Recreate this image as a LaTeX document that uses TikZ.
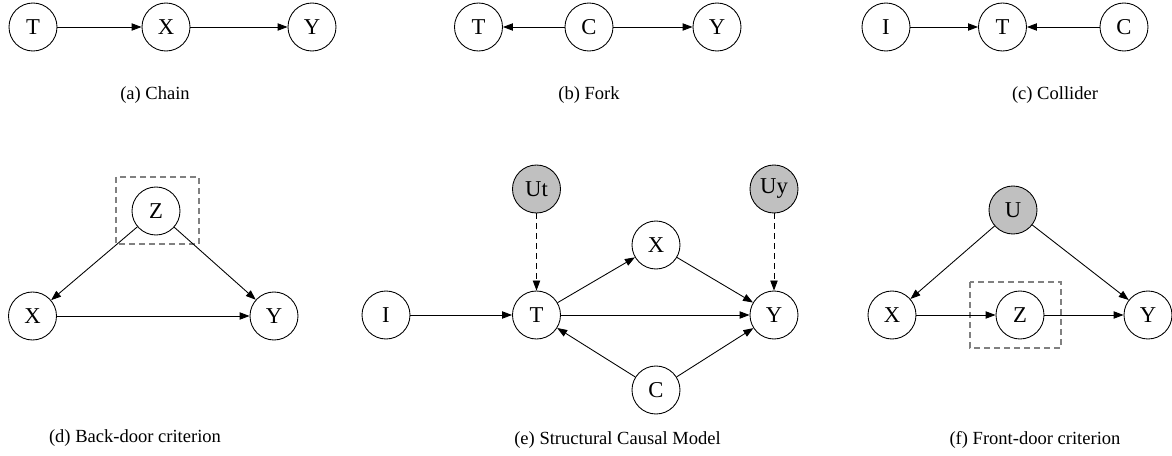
\documentclass[tikz,border=0pt]{standalone}
\usepackage{fontspec}
\setmainfont{Liberation Serif}
\usetikzlibrary{arrows.meta}

\begin{document}
\begin{tikzpicture}[x=0.75pt,y=0.75pt,yscale=-1,xscale=1,
  var/.style={draw,circle,line width=0.65pt,minimum size=36pt,inner sep=0pt,font=\fontsize{17}{19}\selectfont},
  latent/.style={var,fill=latentgray},
  edge/.style={line width=0.65pt,-{Triangle[length=7.5pt,width=5.5pt]}},
  hidden/.style={edge,dash pattern=on 4.5pt off 3pt},
  adjbox/.style={draw=boxgray,dash pattern=on 4.5pt off 3pt,line width=0.8pt},
  caption/.style={font=\fontsize{13.9}{16}\selectfont}]
\definecolor{latentgray}{HTML}{C0C0C0}
\definecolor{boxgray}{HTML}{808080}
\useasboundingbox (0,0) rectangle (1172,456);

%(a) chain
\node [var] (aT) at (33,27) {T};
\node [var] (aX) at (166,27) {X};
\node [var] (aY) at (312,27) {Y};
\draw [edge] (aT) -- (aX);
\draw [edge] (aX) -- (aY);
% Text Node
\node [caption] (capa) at (155,95) {(a) Chain};

%(b) fork
\node [var] (bT) at (478.5,27) {T};
\node [var] (bC) at (589,27) {C};
\node [var] (bY) at (717,27) {Y};
\draw [edge] (bC) -- (bT);
\draw [edge] (bC) -- (bY);
% Text Node
\node [caption] (capb) at (589,95) {(b) Fork};

%(c) collider
\node [var] (cI) at (886,27) {I};
\node [var] (cT) at (1002.5,27) {T};
\node [var] (cC) at (1124,27) {C};
\draw [edge] (cI) -- (cT);
\draw [edge] (cC) -- (cT);
% Text Node
\node [caption] (capc) at (1055,95) {(c) Collider};

%(d) back-door
\draw [adjbox] (116,177) rectangle (199,244);
\node [var] (dZ) at (156,211) {Z};
\node [var] (dX) at (32.5,316) {X};
\node [var] (dY) at (274,316) {Y};
\draw [edge] (dZ) -- (dX);
\draw [edge] (dZ) -- (dY);
\draw [edge] (dX) -- (dY);
% Text Node
\node [caption] (capd) at (135,438) {(d) Back-door criterion};

%(e) structural causal model
\node [latent] (eUt) at (536.5,189) {Ut};
\node [latent] (eUy) at (774,189) {Uy};
\node [var] (eX) at (656,245) {X};
\node [var] (eI) at (386,315) {I};
\node [var] (eT) at (536.5,315) {T};
\node [var] (eY) at (774,315) {Y};
\node [var] (eC) at (656,390) {C};
\draw [hidden] (eUt) -- (eT);
\draw [hidden] (eUy) -- (eY);
\draw [edge] (eI) -- (eT);
\draw [edge] (eT) -- (eX);
\draw [edge] (eX) -- (eY);
\draw [edge] (eT) -- (eY);
\draw [edge] (eC) -- (eT);
\draw [edge] (eC) -- (eY);
% Text Node
\node [caption] (cape) at (617.5,440) {(e) Structural Causal Model};

%(f) front-door
\draw [adjbox] (970,282) rectangle (1061,348);
\node [latent] (fU) at (1013,210) {U};
\node [var] (fX) at (892,315) {X};
\node [var] (fZ) at (1020,315) {Z};
\node [var] (fY) at (1148,315) {Y};
\draw [edge] (fU) -- (fX);
\draw [edge] (fU) -- (fY);
\draw [edge] (fX) -- (fZ);
\draw [edge] (fZ) -- (fY);
% Text Node
\node [caption] (capf) at (1035,440) {(f) Front-door criterion};

\end{tikzpicture}
\end{document}
